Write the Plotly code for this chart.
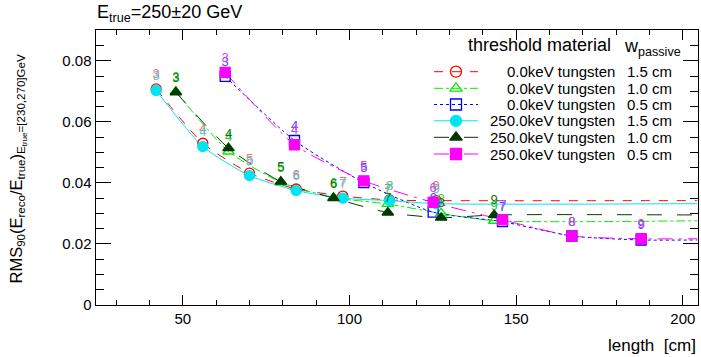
import plotly.graph_objects as go

# ---------------- data ----------------
labels = ["3", "4", "5", "6", "7", "8", "9"]

len_15 = [42, 56, 70, 84, 98, 112, 126]
len_10 = [47.9, 63.7, 79.4, 95.2, 111.5, 127.5, 143.4]
len_05 = [62.7, 83.5, 104.3, 125.1, 145.9, 166.7, 187.5]

rms_0kev_15 = [0.0708, 0.0530, 0.0432, 0.0380, 0.0357, 0.0344, 0.0342]
rms_0kev_10 = [0.0699, 0.0503, 0.0402, 0.0352, 0.0331, 0.0300, 0.0276]
rms_0kev_05 = [0.0749, 0.0539, 0.0401, 0.0304, 0.0273, 0.0226, 0.0213]
rms_250kev_15 = [0.0703, 0.0519, 0.0424, 0.0375, 0.0350, 0.0342, 0.0332]
rms_250kev_10 = [0.0697, 0.0514, 0.0404, 0.0350, 0.0303, 0.0286, 0.0295]
rms_250kev_05 = [0.0762, 0.0525, 0.0407, 0.0336, 0.0279, 0.0226, 0.0217]

thresholds = ["0.0keV", "0.0keV", "0.0keV", "250.0keV", "250.0keV", "250.0keV"]
material = "tungsten"
widths = ["1.5 cm", "1.0 cm", "0.5 cm", "1.5 cm", "1.0 cm", "0.5 cm"]

x_range = [23.8, 204.4]
y_range = [0, 0.0901]

series = [
    dict(x=len_15, y=rms_0kev_15, color="#ff0000", dash="dash", symbol="circle-open",
         lab="#f07070"),
    dict(x=len_10, y=rms_0kev_10, color="#00ee00", dash="dashdot", symbol="triangle-up-open",
         lab="#33cc33"),
    dict(x=len_05, y=rms_0kev_05, color="#0000ff", dash="dot", symbol="square-open",
         lab="#4848ff"),
    dict(x=len_15, y=rms_250kev_15, color="#00e5ee", dash="solid", symbol="circle",
         lab="#5cc8d0"),
    dict(x=len_10, y=rms_250kev_10, color="#003a00", dash="longdash", symbol="triangle-up",
         lab="#0a7a0a"),
    dict(x=len_05, y=rms_250kev_05, color="#ff00ff", dash="longdashdot", symbol="square",
         lab="#d040f0"),
]

W, H = 701, 357
L, R, T, B = 95.5, 697.5, 30, 305

fig = go.Figure()

for s in series:
    # smooth curve, continued flat to the right edge
    fig.add_trace(go.Scatter(
        x=s["x"] + [x_range[1]], y=s["y"] + [s["y"][-1]],
        mode="lines", line=dict(color=s["color"], width=1, dash=s["dash"],
                                shape="spline", smoothing=0.6),
        hoverinfo="skip", showlegend=False))
for s in series:
    fig.add_trace(go.Scatter(
        x=s["x"], y=s["y"], mode="markers+text", text=labels,
        textposition="top center",
        textfont=dict(family="Liberation Sans, Arial", size=13, color=s["lab"]),
        marker=dict(symbol=s["symbol"], size=10, color=s["color"],
                    line=dict(color=s["color"], width=1.3)),
        showlegend=False))

# ---------------- manual legend (pixel overlay axes) ----------------
row_y = [71.7, 88.3, 104.5, 120.8, 137.3, 154]
for s, yy in zip(series, row_y):
    fig.add_trace(go.Scatter(
        x=[434, 478], y=[yy, yy], xaxis="x2", yaxis="y2", mode="lines",
        line=dict(color=s["color"], width=1, dash=s["dash"]),
        hoverinfo="skip", showlegend=False))
    fig.add_trace(go.Scatter(
        x=[456], y=[yy], xaxis="x2", yaxis="y2", mode="markers",
        marker=dict(symbol=s["symbol"], size=11, color=s["color"],
                    line=dict(color=s["color"], width=1.3)),
        hoverinfo="skip", showlegend=False))

annotations = []
annotations.append(dict(x=613, y=57, xref="x2", yref="y2", xanchor="right", yanchor="bottom",
                        text="threshold material", showarrow=False,
                        font=dict(size=18, color="black")))
annotations.append(dict(x=622, y=61, xref="x2", yref="y2", xanchor="left", yanchor="bottom",
                        text="w<sub>passive</sub>", showarrow=False,
                        font=dict(size=18, color="black")))
for th, wd, yy in zip(thresholds, widths, row_y):
    annotations.append(dict(x=617, y=yy, xref="x2", yref="y2", xanchor="right", yanchor="middle",
                            text=f"{th} {material}", showarrow=False,
                            font=dict(size=15, color="black")))
    annotations.append(dict(x=674, y=yy, xref="x2", yref="y2", xanchor="right", yanchor="middle",
                            text=wd, showarrow=False, font=dict(size=15, color="black")))

# title
annotations.append(dict(x=95 / W, y=1 - 27 / H, xref="paper", yref="paper",
                        xanchor="left", yanchor="bottom",
                        text="E<sub>true</sub>=250±20 GeV", showarrow=False,
                        font=dict(size=18, color="black")))
# x title
annotations.append(dict(x=698 / W, y=1 - 345 / H, xref="paper", yref="paper",
                        xanchor="right", yanchor="middle",
                        text="length  [cm]", showarrow=False,
                        font=dict(size=17, color="black")))
# y title
annotations.append(dict(x=18 / W, y=1 - 286 / H, xref="paper", yref="paper",
                        xanchor="center", yanchor="bottom", textangle=-90,
                        text="RMS<sub>90</sub>(E<sub>reco</sub>/E<sub>true</sub>)"
                             "<sub>E<sub>true</sub>=[230,270]GeV</sub>",
                        showarrow=False, font=dict(size=16.5, color="black")))

fig.update_layout(
    template="none",
    width=W, height=H, autosize=False,
    margin=dict(l=0, r=0, t=0, b=0, pad=0),
    paper_bgcolor="white", plot_bgcolor="rgba(0,0,0,0)",
    font=dict(family="Liberation Sans, Arial, sans-serif", color="black"),
    showlegend=False,
    annotations=annotations,
    xaxis=dict(domain=[L / W, R / W], range=x_range, showgrid=False, zeroline=False,
               automargin=False,
               showline=True, linecolor="black", linewidth=1, mirror="allticks",
               ticks="inside", ticklen=10, tickcolor="black", tickwidth=1,
               tickvals=[50, 100, 150, 200], ticktext=["50", "100", "150", "200"],
               tickfont=dict(size=15),
               minor=dict(ticks="inside", ticklen=5, dtick=10, tick0=0,
                          tickcolor="black", showgrid=False)),
    yaxis=dict(domain=[1 - B / H, 1 - T / H], range=y_range, showgrid=False, zeroline=False,
               automargin=False,
               showline=True, linecolor="black", linewidth=1, mirror="allticks",
               ticks="inside", ticklen=15, tickcolor="black", tickwidth=1,
               tickvals=[0, 0.02, 0.04, 0.06, 0.08],
               ticktext=["0", "0.02", "0.04", "0.06", "0.08"],
               tickfont=dict(size=15),
               minor=dict(ticks="inside", ticklen=8, dtick=0.005, tick0=0,
                          tickcolor="black", showgrid=False)),
    xaxis2=dict(domain=[0, 1], range=[0, W], visible=False, fixedrange=True,
                anchor="y2", automargin=False),
    yaxis2=dict(domain=[0, 1], range=[H, 0], visible=False, fixedrange=True,
                anchor="x2", automargin=False),
)

fig.write_html(
    "out.html",
    config={"displayModeBar": False, "staticPlot": True},
    post_script="document.body.style.margin='0';document.body.style.overflow='hidden';",
)
